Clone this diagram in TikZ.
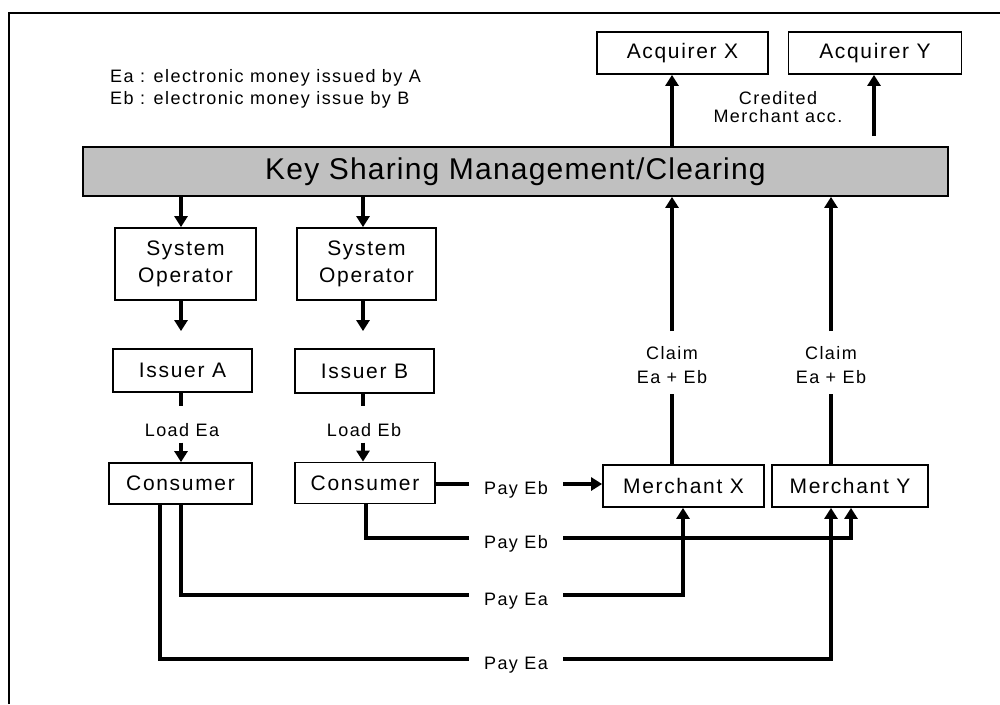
\documentclass[tikz,border=0pt]{standalone}
\usepackage{fontspec}
\setmainfont{Liberation Sans}[LetterSpace=8]
\newfontfamily\ksmfont{Liberation Sans}[LetterSpace=4]
\usetikzlibrary{arrows.meta}
\definecolor{barfill}{RGB}{192,192,192}
\begin{document}
\begin{tikzpicture}[x=1pt,y=-1pt,
  box/.style={draw, line width=1.8pt, rectangle, inner sep=0pt, font=\fontsize{21}{27}\selectfont, align=center},
  conn/.style={line width=4pt},
  arr/.style={line width=4pt, -{Triangle[length=11pt,width=13pt]}},
  lbl/.style={font=\fontsize{18}{24}\selectfont, align=center, inner sep=0pt},
  paylbl/.style={font=\fontsize{18}{24}\selectfont, inner xsep=15pt, inner ysep=0pt, text height=21pt, text depth=0pt},
]
\useasboundingbox (0,0) rectangle (1000,704);
% frame
\draw[line width=2.5pt] (9,704) -- (9,13) -- (1000,13);

% legend
\node[lbl, align=left, anchor=west, font=\fontsize{18}{22}\selectfont] (legend) at (110,89)
  {Ea : electronic money issued by A\\Eb : electronic money issue by B};

% boxes
\node[box, minimum width=171pt, minimum height=42pt] (acqX) at (682.5,53) {Acquirer X};
\node[box, minimum width=173pt, minimum height=42pt] (acqY) at (875,53) {Acquirer Y};
\node[draw, line width=1.8pt, fill=barfill, minimum width=865pt, minimum height=49pt, inner sep=0pt,
      font=\ksmfont\fontsize{30}{36}\selectfont] (ksm) at (515.5,171.5) {Key Sharing Management/Clearing};
\node[box, minimum width=141pt, minimum height=72pt] (so1) at (185.5,264) {System\\Operator};
\node[box, minimum width=139pt, minimum height=72pt] (so2) at (366.5,264) {System\\Operator};
\node[box, minimum width=139pt, minimum height=43pt] (isA) at (182.5,370.5) {Issuer A};
\node[box, minimum width=139pt, minimum height=44pt] (isB) at (364.5,371) {Issuer B};
\node[box, minimum width=143pt, minimum height=41pt] (cA) at (180.5,483.5) {Consumer};
\node[box, minimum width=140pt, minimum height=41pt] (cB) at (365,483) {Consumer};
\node[box, minimum width=161pt, minimum height=42pt] (mX) at (683.5,486) {Merchant X};
\node[box, minimum width=156pt, minimum height=42pt] (mY) at (850,486) {Merchant Y};

\node[lbl, font=\fontsize{18}{18}\selectfont] (cred) at (778,107) {Credited\\Merchant acc.};

% column coordinates
\coordinate (colA) at (181,0);
\coordinate (colA2) at (160,0);
\coordinate (colB) at (363,0);
\coordinate (colBp) at (366,0);
\coordinate (colX) at (672,0);
\coordinate (colXp) at (683,0);
\coordinate (colY) at (831,0);
\coordinate (colYb) at (851,0);
\coordinate (colAc) at (874,0);

% top arrows
\draw[arr] (colX |- ksm.north) -- (colX |- acqX.south);
\draw[arr, shorten <=10pt] (colAc |- ksm.north) -- (colAc |- acqY.south);
\draw[arr] (colA |- ksm.south) -- (colA |- so1.north);
\draw[arr] (colB |- ksm.south) -- (colB |- so2.north);
\draw[arr, shorten >=17pt] (colA |- so1.south) -- (colA |- isA.north);
\draw[arr, shorten >=17pt] (colB |- so2.south) -- (colB |- isB.north);

% load
\node[lbl, text height=13pt, text depth=0pt] (ldA) at (182,430) {Load Ea};
\node[lbl, text height=13pt, text depth=0pt] (ldB) at (364,430) {Load Eb};
\draw[conn, shorten >=17pt] (colA |- isA.south) -- (colA |- ldA.north);
\draw[arr, shorten <=6pt] (colA |- ldA.south) -- (colA |- cA.north);
\draw[conn, shorten >=17pt] (colB |- isB.south) -- (colB |- ldB.north);
\draw[arr, shorten <=6pt] (colB |- ldB.south) -- (colB |- cB.north);

% claims
\node[lbl] (clX) at (672,365) {Claim\\Ea + Eb};
\node[lbl] (clY) at (831,365) {Claim\\Ea + Eb};
\draw[conn, shorten >=10pt] (colX |- mX.north) -- (colX |- clX.south);
\draw[arr, shorten <=15pt] (colX |- clX.north) -- (colX |- ksm.south);
\draw[conn, shorten >=10pt] (colY |- mY.north) -- (colY |- clY.south);
\draw[arr, shorten <=15pt] (colY |- clY.north) -- (colY |- ksm.south);

% payments
\node[paylbl] (pb1) at (516,484) {Pay Eb};
\node[paylbl] (pb2) at (516,538) {Pay Eb};
\node[paylbl] (pa1) at (516,595) {Pay Ea};
\node[paylbl] (pa2) at (516,659) {Pay Ea};
\draw[conn] (pb1.west -| cB.east) -- (pb1.west);
\draw[arr] (pb1.east) -- (pb1.east -| mX.west);
\draw[conn] (colBp |- cB.south) |- (pb2.west);
\draw[arr] (pb2.east) -| (colYb |- mY.south);
\draw[conn] (colA |- cA.south) |- (pa1.west);
\draw[arr] (pa1.east) -| (colXp |- mX.south);
\draw[conn] (colA2 |- cA.south) |- (pa2.west);
\draw[arr] (pa2.east) -| (colY |- mY.south);
\end{tikzpicture}
\end{document}
